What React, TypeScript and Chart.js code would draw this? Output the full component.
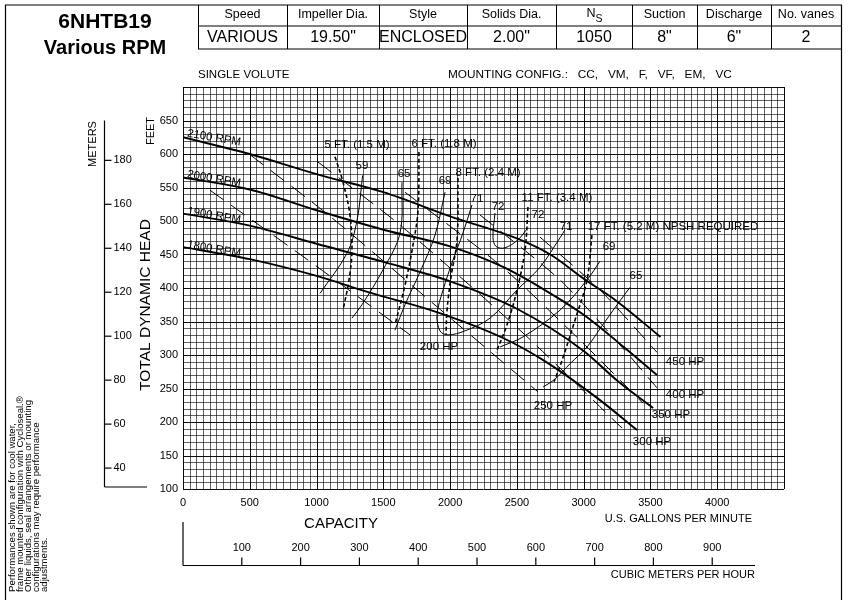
import React, { useEffect, useRef } from 'react';
import { Chart, registerables } from 'chart.js';

Chart.register(...registerables);

const W = 852;
const H = 605;
const FONT = '"Liberation Sans", Arial, Helvetica, sans-serif';

// ---------- axis ticks ----------
const gpmTicks = [0, 500, 1000, 1500, 2000, 2500, 3000, 3500, 4000];
const feetTicks = [100, 150, 200, 250, 300, 350, 400, 450, 500, 550, 600, 650];
const meterTicks = [40, 60, 80, 100, 120, 140, 160, 180];
const m3hTicks = [100, 200, 300, 400, 500, 600, 700, 800, 900];

// ---------- head-capacity curves (gpm, ft) ----------
const curve2100: [number, number][] = [[0, 625], [500, 600], [1000, 570], [1500, 543], [2000, 507], [2500, 474], [2750, 450], [3000, 414], [3250, 380], [3575, 327]];
const curve2000: [number, number][] = [[0, 565], [500, 547], [1000, 516], [1500, 487], [2000, 462], [2400, 431], [2700, 398], [3000, 360], [3300, 312], [3550, 270]];
const curve1900: [number, number][] = [[0, 511], [500, 493], [1000, 466], [1500, 439], [2000, 410], [2500, 369], [3000, 306], [3250, 262], [3520, 221]];
const curve1800: [number, number][] = [[0, 461], [500, 443], [1000, 418], [1400, 393], [1900, 364], [2400, 325], [2700, 292], [3100, 236], [3400, 188]];

// ---------- efficiency contours ----------
const eff59: [number, number][] = [[1345, 568], [1303, 501], [1228, 452], [1026, 392]];
const eff65L: [number, number][] = [[1640, 558], [1625, 482], [1497, 427], [1340, 375], [1265, 355]];
const eff69L: [number, number][] = [[1962, 543], [1887, 479], [1775, 424], [1662, 375], [1587, 337]];
const eff71: [number, number][] = [[2164, 524], [2096, 482], [2022, 442], [1947, 397], [1902, 360], [1924, 336], [1984, 330], [2111, 336], [2299, 355], [2501, 397], [2673, 431], [2823, 475], [2860, 487]];
const eff72: [number, number][] = [[2336, 512], [2321, 475], [2344, 462], [2411, 460], [2508, 472], [2583, 490]];
const eff69R: [number, number][] = [[3122, 440], [3025, 412], [2823, 367], [2546, 327], [2374, 312]];
const eff65R: [number, number][] = [[3347, 401], [3250, 375], [3122, 339], [3025, 312], [2898, 287], [2785, 264], [2695, 252]];

// ---------- NPSH required lines ----------
const npsh5: [number, number][] = [[1138, 596], [1198, 558], [1250, 509], [1265, 456], [1243, 412], [1198, 367]];
const npsh6: [number, number][] = [[1767, 603], [1760, 516], [1722, 464], [1662, 404], [1587, 345]];
const npsh8: [number, number][] = [[2059, 564], [2052, 472], [2007, 417], [1977, 367], [1969, 330]];
const npsh11: [number, number][] = [[2583, 521], [2561, 457], [2501, 397], [2426, 345], [2344, 304]];
const npsh17: [number, number][] = [[3062, 479], [3025, 412], [2935, 352], [2838, 292], [2778, 260]];

// ---------- horsepower lines ----------
const hp200: [number, number][] = [[202, 546], [913, 445], [1700, 330]];
const hp250: [number, number][] = [[502, 599], [1101, 507], [1902, 372], [2658, 245]];
const hp300: [number, number][] = [[1011, 588], [1625, 494], [2523, 337], [3287, 191]];
const hp350: [number, number][] = [[1662, 543], [2374, 434], [2973, 322], [3444, 228]];
const hp400: [number, number][] = [[2224, 509], [2823, 412], [3272, 315], [3549, 251]];
const hp450: [number, number][] = [[2673, 476], [3122, 397], [3549, 304]];

// ---------- in-plot labels (gpm, ft) ----------
const rpmLabels = [
  { t: '2100 RPM', q: 232, h: 624 },
  { t: '2000 RPM', q: 232, h: 563 },
  { t: '1900 RPM', q: 232, h: 508 },
  { t: '1800 RPM', q: 232, h: 458 },
];
const effLabels = [
  { t: '59', q: 1340, h: 582 },
  { t: '65', q: 1655, h: 570 },
  { t: '69', q: 1962, h: 560 },
  { t: '71', q: 2201, h: 533 },
  { t: '72', q: 2359, h: 521 },
  { t: '72', q: 2658, h: 509 },
  { t: '71', q: 2868, h: 491 },
  { t: '69', q: 3190, h: 461 },
  { t: '65', q: 3392, h: 418 },
];
const npshLabels = [
  { t: '5 FT. (1.5 M)', q: 1303, h: 613 },
  { t: '6 FT. (1.8 M)', q: 1954, h: 615 },
  { t: '8 FT. (2.4 M)', q: 2284, h: 572 },
  { t: '11 FT. (3.4 M)', q: 2800, h: 534 },
  { t: '17 FT. (5.2 M) NPSH REQUIRED', q: 3669, h: 491 },
];
const hpLabels = [
  { t: '200 HP', q: 1917, h: 312 },
  { t: '250 HP', q: 2770, h: 224 },
  { t: '300 HP', q: 3512, h: 170 },
  { t: '350 HP', q: 3654, h: 210 },
  { t: '400 HP', q: 3759, h: 240 },
  { t: '450 HP', q: 3759, h: 290 },
];

// ---------- header table ----------
const tableHeads = ['Speed', 'Impeller Dia.', 'Style', 'Solids Dia.', 'N', 'Suction', 'Discharge', 'No. vanes'];
const tableVals = ['VARIOUS', '19.50"', 'ENCLOSED', '2.00"', '1050', '8"', '6"', '2'];
const noteLines = [
  'Performances shown are for cool water,',
  'frame mounted configuration with Cycloseal.\u00AE',
  'Other liquids, seal arrangements or mounting',
  'configurations may require performance',
  'adjustments.',
];

const FT_PER_M = 3.28084;
const GPM_PER_M3H = 4.402868;

function text(ctx: CanvasRenderingContext2D, s: string, x: number, y: number, size: number, align: CanvasTextAlign = 'center', bold = false, rot = 0) {
  ctx.save();
  ctx.font = `${bold ? 'bold ' : ''}${size}px ${FONT}`;
  ctx.fillStyle = '#000';
  ctx.textAlign = align;
  ctx.textBaseline = 'middle';
  ctx.translate(x, y);
  if (rot) ctx.rotate(rot);
  ctx.fillText(s, 0, 0);
  ctx.restore();
}

function line(ctx: CanvasRenderingContext2D, x1: number, y1: number, x2: number, y2: number, w = 1, c = '#000') {
  ctx.save();
  ctx.strokeStyle = c;
  ctx.lineWidth = w;
  ctx.beginPath();
  ctx.moveTo(x1, y1);
  ctx.lineTo(x2, y2);
  ctx.stroke();
  ctx.restore();
}

const decor = {
  id: 'decor',
  beforeDatasetsDraw(chart: any) {
    const { ctx } = chart;
    const xs = chart.scales.x;
    const ys = chart.scales.y;
    const top = ys.getPixelForValue(700);
    const bot = ys.getPixelForValue(100);
    const left = xs.getPixelForValue(0);
    const right = xs.getPixelForValue(4500);
    ctx.save();
    for (let q = 0; q <= 4500; q += 50) {
      const px = Math.round(xs.getPixelForValue(q)) + 0.5;
      const major = q % 500 === 0;
      line(ctx, px, top, px, bot, 1, major ? 'rgba(0,0,0,0.95)' : 'rgba(0,0,0,0.62)');
    }
    for (let h = 100; h <= 700; h += 10) {
      const py = Math.round(ys.getPixelForValue(h)) + 0.5;
      const major = h % 50 === 0;
      line(ctx, left, py, right, py, 1, major ? 'rgba(0,0,0,0.95)' : 'rgba(0,0,0,0.62)');
    }
    ctx.restore();
  },
  afterDatasetsDraw(chart: any) {
    const { ctx } = chart;
    const xs = chart.scales.x;
    const ys = chart.scales.y;
    const X = (q: number) => xs.getPixelForValue(q);
    const Y = (h: number) => ys.getPixelForValue(h);
    const fs = 11.5;

    rpmLabels.forEach((l) => text(ctx, l.t, X(l.q), Y(l.h), 11.5, 'center', false, 0.17));
    effLabels.forEach((l) => text(ctx, l.t, X(l.q), Y(l.h), fs));
    npshLabels.forEach((l) => text(ctx, l.t, X(l.q), Y(l.h), fs));
    hpLabels.forEach((l) => text(ctx, l.t, X(l.q), Y(l.h), fs));

    // feet axis
    feetTicks.forEach((f) => text(ctx, String(f), 178, Y(f), 11, 'right'));
    text(ctx, 'FEET', 151, 131, 11, 'center', false, -Math.PI / 2);
    // gpm axis
    gpmTicks.forEach((g) => text(ctx, String(g), X(g), 503, 11));
    text(ctx, 'U.S. GALLONS PER MINUTE', 752, 519, 11, 'right');
    text(ctx, 'CAPACITY', 341, 524, 15);

    // meters axis
    const mx = 104.5;
    line(ctx, mx, Y(650), mx, Y(100) - 2, 1.2);
    line(ctx, mx, Y(100) - 2, 147, Y(100) - 2, 1.2);
    meterTicks.forEach((m) => {
      const py = Y(m * FT_PER_M);
      line(ctx, mx, py, mx + 7, py, 1.2);
      text(ctx, String(m), mx + 9, py, 11, 'left');
    });
    text(ctx, 'METERS', 93, 144, 11, 'center', false, -Math.PI / 2);
    text(ctx, 'TOTAL DYNAMIC HEAD', 146, 305, 15.5, 'center', false, -Math.PI / 2);

    // cubic meters axis
    const by = 565.5;
    line(ctx, X(0), 522, X(0), by, 1.2);
    line(ctx, X(0), by, 755, by, 1.2);
    m3hTicks.forEach((m) => {
      const px = X(m * GPM_PER_M3H);
      line(ctx, px, by - 8, px, by, 1.2);
      text(ctx, String(m), px, 548, 11);
    });
    text(ctx, 'CUBIC METERS PER HOUR', 755, 575, 11, 'right');

    // top texts
    text(ctx, 'SINGLE VOLUTE', 198, 75, 11.5, 'left');
    text(ctx, 'MOUNTING CONFIG.:   CC,   VM,   F,   VF,   EM,   VC', 448, 75, 11.8, 'left');

    // frame
    line(ctx, 5, 5, 842, 5, 1.2);
    line(ctx, 5.5, 5, 5.5, 600, 1.2);
    line(ctx, 841.5, 5, 841.5, 600, 1.2);

    // table
    const cols = [198, 287, 379, 467, 556, 632, 697, 771, 841];
    line(ctx, 198, 26, 841, 26, 1);
    line(ctx, 198, 49, 841, 49, 1);
    cols.forEach((c) => line(ctx, c + 0.5, 5, c + 0.5, 49, 1));
    for (let i = 0; i < tableHeads.length; i++) {
      const cx = (cols[i] + cols[i + 1]) / 2;
      if (tableHeads[i] === 'N') {
        text(ctx, 'N', cx - 3, 14, 12.5);
        text(ctx, 'S', cx + 5, 19, 10.5);
      } else {
        text(ctx, tableHeads[i], cx, 15, 12.5);
      }
      text(ctx, tableVals[i], cx, 38, 16);
    }
    text(ctx, '6NHTB19', 105, 22, 21, 'center', true);
    text(ctx, 'Various RPM', 105, 48, 20, 'center', true);

    // note
    noteLines.forEach((s, i) => text(ctx, s, 12 + i * 8, 592, 9.6, 'left', false, -Math.PI / 2));
  },
};

function ds(data: [number, number][], width: number, opts: any = {}) {
  return {
    data: data.map(([x, y]) => ({ x, y })),
    showLine: true,
    pointRadius: 0,
    borderColor: '#000',
    backgroundColor: '#000',
    borderWidth: width,
    fill: false,
    tension: 0.35,
    ...opts,
  };
}

export default function App() {
  const ref = useRef<HTMLCanvasElement | null>(null);
  useEffect(() => {
    if (!ref.current) return;
    const head = { cubicInterpolationMode: 'monotone' };
    const npsh = { borderDash: [4, 2.5] };
    const hp = { borderDash: [17, 9], tension: 0.25 };
    const chart = new Chart(ref.current, {
      type: 'scatter',
      data: {
        datasets: [
          ds(curve2100, 1.9, head),
          ds(curve2000, 1.9, head),
          ds(curve1900, 1.9, head),
          ds(curve1800, 1.9, head),
          ds(eff59, 1),
          ds(eff65L, 1),
          ds(eff69L, 1),
          ds(eff71, 1),
          ds(eff72, 1),
          ds(eff69R, 1),
          ds(eff65R, 1),
          ds(npsh5, 1.6, npsh),
          ds(npsh6, 1.6, npsh),
          ds(npsh8, 1.6, npsh),
          ds(npsh11, 1.6, npsh),
          ds(npsh17, 1.6, npsh),
          ds(hp200, 1, hp),
          ds(hp250, 1, hp),
          ds(hp300, 1, hp),
          ds(hp350, 1, hp),
          ds(hp400, 1, hp),
          ds(hp450, 1, hp),
        ],
      },
      options: {
        responsive: false,
        animation: false,
        devicePixelRatio: 1,
        events: [],
        layout: { padding: { left: 183, top: 87, right: W - 784, bottom: H - 489 } },
        plugins: { legend: { display: false }, tooltip: { enabled: false } },
        scales: {
          x: { type: 'linear', min: 0, max: 4500, display: false },
          y: { type: 'linear', min: 100, max: 700, display: false },
        },
      } as any,
      plugins: [decor],
    } as any);
    return () => chart.destroy();
  }, []);
  return (
    <div style={{ position: 'absolute', left: 0, top: 0, width: W, height: H, background: '#fff' }}>
      <canvas ref={ref} width={W} height={H} style={{ display: 'block', width: W, height: H }} />
    </div>
  );
}
